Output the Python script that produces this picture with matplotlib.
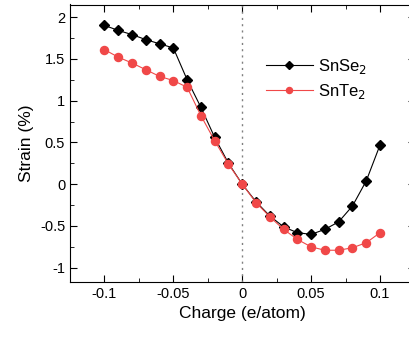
import matplotlib.pyplot as plt
import numpy as np
from matplotlib.ticker import MultipleLocator

plt.rcParams["font.family"] = ["Liberation Sans", "DejaVu Sans"]

charge = np.round(np.arange(-0.1, 0.1001, 0.01), 2)
snse2 = [1.90, 1.84, 1.79, 1.73, 1.68, 1.63, 1.25, 0.92, 0.56, 0.25, 0.0,
         -0.21, -0.38, -0.51, -0.58, -0.60, -0.54, -0.45, -0.26, 0.04, 0.47]
snte2 = [1.61, 1.52, 1.45, 1.37, 1.29, 1.24, 1.16, 0.82, 0.52, 0.24, 0.0,
         -0.22, -0.39, -0.54, -0.66, -0.75, -0.79, -0.79, -0.76, -0.70, -0.58]

fig = plt.figure(figsize=(4.09, 3.40), dpi=100)
ax = fig.add_axes([70 / 409, 58 / 340, 344.5 / 409, 277.5 / 340])

ax.axvline(0, color="#808080", ls=(0, (1.5, 3)), lw=1)
ax.plot(charge, snse2, "-D", color="black", lw=0.8, ms=5.3, label="SnSe$_2$")
ax.plot(charge, snte2, "-o", color="#f04848", lw=0.8, ms=5.8, label="SnTe$_2$")

ax.set_xlim(-0.125, 0.125)
ax.set_ylim(-1.17, 2.15)
ax.xaxis.set_minor_locator(MultipleLocator(0.025))
ax.yaxis.set_minor_locator(MultipleLocator(0.25))
ax.set_xticks([-0.1, -0.05, 0, 0.05, 0.1])
ax.set_xticklabels(["-0.1", "-0.05", "0", "0.05", "0.1"])
ax.set_yticks([-1, -0.5, 0, 0.5, 1, 1.5, 2])
ax.set_yticklabels(["-1", "-0.5", "0", "0.5", "1", "1.5", "2"])
ax.tick_params(which="both", direction="in", top=True, right=True, labelsize=10.5)
ax.tick_params(which="major", length=5)
ax.tick_params(which="minor", length=3)

ax.set_xlabel("Charge (e/atom)", fontsize=12.5)
ax.set_ylabel("Strain (%)", fontsize=12.5)
ax.legend(frameon=False, fontsize=12, loc="upper left", bbox_to_anchor=(0.525, 0.865),
          handlelength=2.8, handletextpad=0.3, labelspacing=0.35, markerscale=0.75)

fig.savefig("out.png", dpi=100)
